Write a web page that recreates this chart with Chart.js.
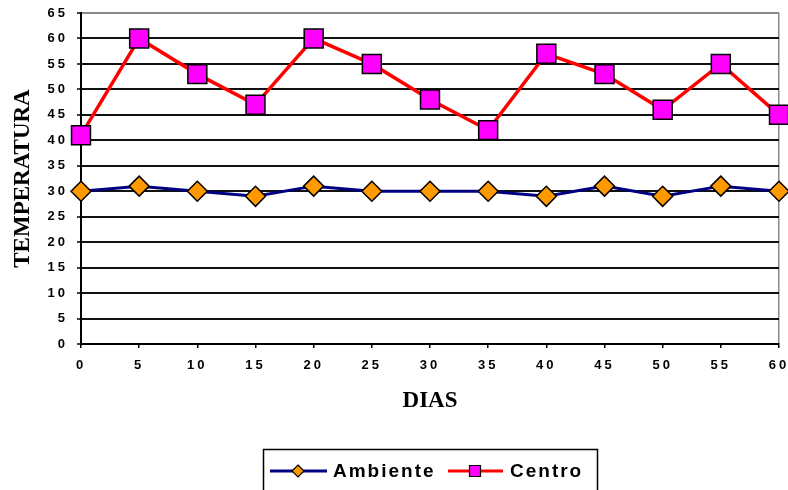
<!DOCTYPE html>
<html><head><meta charset="utf-8">
<script src="https://cdn.jsdelivr.net/npm/chart.js@4/dist/chart.umd.min.js"></script>
<style>html,body{margin:0;padding:0;background:#fff}#wrap{width:788px;height:490px}</style>
</head><body><div id="wrap"><canvas id="c" width="788" height="490"></canvas></div>
<script>
const dias = [0, 5, 10, 15, 20, 25, 30, 35, 40, 45, 50, 55, 60];
const ambiente = [30, 31, 30, 29, 31, 30, 30, 30, 29, 31, 29, 31, 30];
const centro = [41, 60, 53, 47, 60, 55, 48, 42, 57, 53, 46, 55, 45];
const seriesNames = ['Ambiente', 'Centro'];
const xTitle = 'DIAS';
const yTitle = 'TEMPERATURA';
const yRange = [0, 65];
const xRange = [0, 60];
const tickStep = 5;

const toPoints = (arr) => arr.map((v, i) => ({x: dias[i], y: v}));

const spacedTicks = {
  id: 'spacedTicks',
  beforeDraw(chart) {
    Object.values(chart.scales).forEach(s => {
      if (s._spaced) return;
      const orig = s.drawLabels;
      s.drawLabels = function (area) {
        const c = this.ctx; c.save(); c.letterSpacing = '3px'; orig.call(this, area); c.restore();
      };
      s._spaced = true;
    });
  }
};

const boxLegend = {
  id: 'boxLegend',
  afterDraw(chart) {
    const ctx = chart.ctx;
    ctx.save();
    ctx.strokeStyle = '#000'; ctx.lineWidth = 1.5;
    ctx.beginPath();
    ctx.moveTo(263.5, 495); ctx.lineTo(263.5, 449.5); ctx.lineTo(597.5, 449.5); ctx.lineTo(597.5, 495);
    ctx.stroke();
    const y = 471;
    const items = [
      {x0: 270, x1: 327, mx: 298, tx: 333},
      {x0: 448, x1: 503, mx: 475, tx: 510}
    ];
    chart.data.datasets.forEach((ds, i) => {
      const it = items[i];
      ctx.strokeStyle = ds.borderColor; ctx.lineWidth = 3;
      ctx.beginPath(); ctx.moveTo(it.x0, y); ctx.lineTo(it.x1, y); ctx.stroke();
      ctx.fillStyle = ds.pointBackgroundColor; ctx.strokeStyle = '#000'; ctx.lineWidth = 1.2;
      ctx.beginPath();
      if (ds.pointStyle === 'rectRot') {
        ctx.moveTo(it.mx, y - 6); ctx.lineTo(it.mx + 6, y); ctx.lineTo(it.mx, y + 6); ctx.lineTo(it.mx - 6, y); ctx.closePath();
      } else {
        ctx.rect(it.mx - 5.5, y - 5.5, 11, 11);
      }
      ctx.fill(); ctx.stroke();
      ctx.fillStyle = '#000';
      ctx.font = 'bold 19px "Liberation Sans", Arial, sans-serif';
      ctx.letterSpacing = '2px';
      ctx.textBaseline = 'middle'; ctx.textAlign = 'left';
      ctx.fillText(ds.label, it.tx, y + 1);
      ctx.letterSpacing = '0px';
    });
    ctx.restore();
  }
};

new Chart(document.getElementById('c'), {
  type: 'line',
  data: {
    datasets: [
      {
        label: seriesNames[0], data: toPoints(ambiente),
        borderColor: '#000080', borderWidth: 3,
        pointStyle: 'rectRot', pointRadius: 10, pointHoverRadius: 10,
        pointBackgroundColor: '#FF9900', pointBorderColor: '#000', pointBorderWidth: 1.5,
        clip: false, tension: 0
      },
      {
        label: seriesNames[1], data: toPoints(centro),
        borderColor: '#FF0000', borderWidth: 3.5,
        pointStyle: 'rect', pointRadius: 13.4, pointHoverRadius: 13.4,
        pointBackgroundColor: '#FF00FF', pointBorderColor: '#000', pointBorderWidth: 1.5,
        clip: false, tension: 0
      }
    ]
  },
  options: {
    responsive: false, animation: false, devicePixelRatio: 1,
    layout: {autoPadding: false, padding: {top: 13, right: 9, bottom: 75, left: 0}},
    plugins: {legend: {display: false}, tooltip: {enabled: false}},
    scales: {
      x: {
        type: 'linear', min: xRange[0], max: xRange[1],
        afterFit: (s) => { s.height = 71; },
        ticks: {stepSize: tickStep, color: '#000', padding: 0, maxRotation: 0,
          font: {family: '"Liberation Sans", Arial, sans-serif', size: 13, weight: 'bold', lineHeight: '34px'}},
        grid: {
          drawOnChartArea: true, drawTicks: true, tickLength: 4, tickWidth: 1.5, tickColor: '#000',
          color: (c) => (c.tick && c.tick.value === xRange[1]) ? '#8a8a8a' : 'rgba(0,0,0,0)',
          lineWidth: 1.5
        },
        border: {display: true, color: '#000', width: 2},
        title: {display: true, text: xTitle, color: '#000', padding: {top: 0, bottom: 0},
          font: {family: '"Liberation Serif", "Times New Roman", serif', size: 23, weight: 'bold'}}
      },
      y: {
        min: yRange[0], max: yRange[1],
        afterFit: (s) => { s.width = 81; },
        ticks: {stepSize: tickStep, color: '#000', padding: 9,
          font: {family: '"Liberation Sans", Arial, sans-serif', size: 13, weight: 'bold', lineHeight: 0.5}},
        grid: {
          drawTicks: true, tickLength: 4, tickWidth: 1.5, tickColor: '#000',
          color: (c) => (c.tick && c.tick.value === yRange[1]) ? '#8a8a8a' : '#111',
          lineWidth: 2
        },
        border: {display: true, color: '#000', width: 2},
        title: {display: true, text: yTitle, color: '#000', padding: {top: 9, bottom: 0},
          font: {family: '"Liberation Serif", "Times New Roman", serif', size: 23, weight: 'bold'}}
      }
    }
  },
  plugins: [spacedTicks, boxLegend]
});
</script>
</body></html>
